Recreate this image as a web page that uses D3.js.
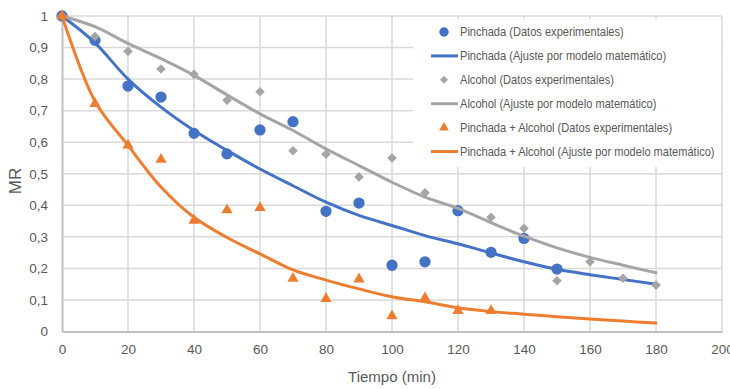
<!DOCTYPE html>
<html>
<head>
<meta charset="utf-8">
<script src="https://cdn.jsdelivr.net/npm/d3@7"></script>
<style>
body { margin: 0; background: #fff; }
#chart svg { display: block; }
</style>
</head>
<body>
<div id="chart"></div>
<script>
// experimental points
var tPinchada = [0, 10, 20, 30, 40, 50, 60, 70, 80, 90, 100, 110, 120, 130, 140, 150];
var mrPinchada = [1, 0.923, 0.778, 0.743, 0.628, 0.563, 0.639, 0.665, 0.381, 0.407, 0.21, 0.221, 0.383, 0.251, 0.295, 0.198];

var tAlcohol = [0, 10, 20, 30, 40, 50, 60, 70, 80, 90, 100, 110, 130, 140, 150, 160, 170, 180];
var mrAlcohol = [1, 0.935, 0.888, 0.832, 0.815, 0.733, 0.76, 0.573, 0.562, 0.49, 0.55, 0.44, 0.362, 0.327, 0.161, 0.221, 0.169, 0.147];

var tMezcla = [0, 10, 20, 30, 40, 50, 60, 70, 80, 90, 100, 110, 120, 130];
var mrMezcla = [1, 0.722, 0.59, 0.545, 0.352, 0.385, 0.392, 0.168, 0.104, 0.166, 0.049, 0.106, 0.066, 0.066];

// model curves
var tModelo = [0, 10, 20, 30, 40, 50, 60, 70, 80, 90, 100, 110, 120, 130, 140, 150, 160, 170, 180];
var modPinchada = [1, 0.915, 0.8, 0.711, 0.637, 0.574, 0.515, 0.462, 0.41, 0.368, 0.336, 0.304, 0.278, 0.249, 0.221, 0.197, 0.18, 0.165, 0.15];
var modAlcohol = [1, 0.966, 0.913, 0.865, 0.812, 0.75, 0.69, 0.637, 0.579, 0.526, 0.473, 0.426, 0.39, 0.345, 0.302, 0.265, 0.235, 0.21, 0.186];
var modMezcla = [1, 0.73, 0.59, 0.458, 0.362, 0.298, 0.246, 0.195, 0.163, 0.135, 0.11, 0.094, 0.075, 0.063, 0.055, 0.047, 0.04, 0.033, 0.027];

var xTicks = [0, 20, 40, 60, 80, 100, 120, 140, 160, 180, 200];
var yTicks = [0, 0.1, 0.2, 0.3, 0.4, 0.5, 0.6, 0.7, 0.8, 0.9, 1];

var legendLabels = [
    "Pinchada (Datos experimentales)",
    "Pinchada (Ajuste por modelo matemático)",
    "Alcohol (Datos experimentales)",
    "Alcohol (Ajuste por modelo matemático)",
    "Pinchada + Alcohol (Datos experimentales)",
    "Pinchada + Alcohol (Ajuste por modelo matemático)"
];

function init(){

    var w = 730;
    var h = 389;
    var blue = "#4472c4", grey = "#a5a5a5", orange = "#ed7d31";
    var textCol = "#595959";
    var tickFont = "'Liberation Sans', Arial, sans-serif";

    var x = d3.scaleLinear().domain([0, 200]).range([62, 722]);
    var y = d3.scaleLinear().domain([0, 1]).range([331.5, 16]);

    var svg = d3.select("#chart")
                .append("svg")
                .attr("width", w)
                .attr("height", h);

    // gridlines
    svg.append("g")
        .selectAll("line")
        .data(yTicks.slice(1))
        .enter()
        .append("line")
        .attr("x1", x(0))
        .attr("x2", x(200))
        .attr("y1", function(d){ return y(d); })
        .attr("y2", function(d){ return y(d); })
        .attr("stroke", "#d9d9d9")
        .attr("stroke-width", 1.5);

    svg.append("g")
        .selectAll("line")
        .data(xTicks.slice(1))
        .enter()
        .append("line")
        .attr("x1", function(d){ return x(d); })
        .attr("x2", function(d){ return x(d); })
        .attr("y1", y(0))
        .attr("y2", y(1))
        .attr("stroke", "#d9d9d9")
        .attr("stroke-width", 1.5);

    // axes
    var xAxis = d3.axisBottom(x).tickValues(xTicks).tickSize(0).tickPadding(13);
    var gx = svg.append("g")
        .attr("transform", "translate(0," + y(0) + ")")
        .call(xAxis);
    gx.select(".domain").attr("stroke", "#bfbfbf").attr("stroke-width", 2);
    gx.selectAll("text")
        .attr("fill", textCol)
        .style("font-family", tickFont)
        .style("font-size", "13.5px");

    var yAxis = d3.axisLeft(y).tickValues(yTicks).tickSize(0).tickPadding(14)
        .tickFormat(function(d){ return d3.format(".1~f")(d).replace(".", ","); });
    var gy = svg.append("g")
        .attr("transform", "translate(" + x(0) + ",0)")
        .call(yAxis);
    gy.select(".domain").attr("stroke", "#bfbfbf").attr("stroke-width", 2);
    gy.selectAll("text")
        .attr("fill", textCol)
        .style("font-family", tickFont)
        .style("font-size", "13.5px");

    svg.append("text")
        .attr("transform", "translate(21,181) rotate(-90)")
        .attr("text-anchor", "middle")
        .attr("fill", textCol)
        .style("font-family", tickFont)
        .style("font-size", "17px")
        .text("MR");

    svg.append("text")
        .attr("x", (x(0) + x(200)) / 2)
        .attr("y", 382)
        .attr("text-anchor", "middle")
        .attr("fill", textCol)
        .style("font-family", tickFont)
        .style("font-size", "15px")
        .text("Tiempo (min)");

    // model lines
    var line = d3.line()
        .x(function(d){ return x(d[0]); })
        .y(function(d){ return y(d[1]); })
        .curve(d3.curveCatmullRom);

    var circle = d3.symbol().type(d3.symbolCircle).size(100);
    var diamond = d3.symbol().type(d3.symbolSquare).size(46);
    var triangle = d3.symbol().type(d3.symbolTriangle).size(55);

    function drawPoints(ts, vals, sym, color, rot){
        svg.append("g")
            .selectAll("path")
            .data(ts)
            .enter()
            .append("path")
            .attr("d", sym)
            .attr("transform", function(d, i){
                return "translate(" + x(d) + "," + y(vals[i]) + ")" + (rot ? " rotate(45)" : "");
            })
            .attr("fill", color);
    }

    function drawModel(vals, color){
        svg.append("path")
            .datum(tModelo.map(function(t, i){ return [t, vals[i]]; }))
            .attr("d", line)
            .attr("fill", "none")
            .attr("stroke", color)
            .attr("stroke-width", 3)
            .attr("stroke-linecap", "round");
    }

    drawPoints(tPinchada, mrPinchada, circle, blue, false);
    drawModel(modPinchada, blue);
    drawPoints(tAlcohol, mrAlcohol, diamond, grey, true);
    drawModel(modAlcohol, grey);
    drawPoints(tMezcla, mrMezcla, triangle, orange, false);
    drawModel(modMezcla, orange);

    // legend
    var lg = svg.append("g");
    lg.append("rect")
        .attr("x", 413)
        .attr("y", 19)
        .attr("width", 308)
        .attr("height", 148)
        .attr("fill", "#fff");

    var legendSym = [
        {kind: "pt", sym: d3.symbol().type(d3.symbolCircle).size(70), color: blue, rot: false},
        {kind: "ln", color: blue},
        {kind: "pt", sym: d3.symbol().type(d3.symbolSquare).size(32), color: grey, rot: true},
        {kind: "ln", color: grey},
        {kind: "pt", sym: d3.symbol().type(d3.symbolTriangle).size(42), color: orange, rot: false},
        {kind: "ln", color: orange}
    ];

    var items = lg.selectAll("g.item")
        .data(legendLabels)
        .enter()
        .append("g")
        .attr("class", "item")
        .attr("transform", function(d, i){ return "translate(0," + (32 + i * 23.9) + ")"; });

    var texts = [];
    items.each(function(d, i){
        var s = legendSym[i];
        var g = d3.select(this);
        if (s.kind == "pt") {
            g.append("path")
                .attr("d", s.sym)
                .attr("transform", "translate(444,0)" + (s.rot ? " rotate(45)" : ""))
                .attr("fill", s.color);
        } else {
            g.append("line")
                .attr("x1", 431)
                .attr("x2", 458)
                .attr("stroke", s.color)
                .attr("stroke-width", 3);
        }
        var t = g.append("text")
            .attr("y", 4)
            .attr("fill", textCol)
            .style("font-family", tickFont)
            .style("font-size", "12.5px")
            .text(d);
        texts.push(t);
    });

    // squeeze legend text horizontally (narrow font look)
    var longest = texts[5].node().getComputedTextLength();
    var k = 255 / longest;
    texts.forEach(function(t){
        t.attr("transform", "translate(460,0) scale(" + k + ",1)");
    });
}
window.onload = init;
</script>
</body>
</html>
